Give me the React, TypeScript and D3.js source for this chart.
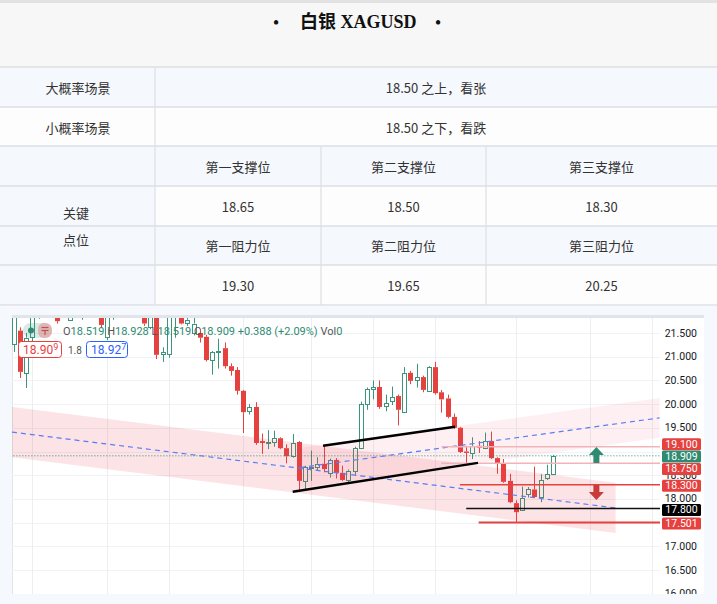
import React from 'react';
import * as d3 from 'd3';

const W = 717;
const H = 604;

// ---------- table content ----------
const titleText = '白银 XAGUSD';
const scenarioLabels = ['大概率场景', '小概率场景'];
const scenarioTexts = ['18.50 之上，看张', '18.50 之下，看跌'];
const keyLabel = ['关键', '点位'];
const supportNames = ['第一支撑位', '第二支撑位', '第三支撑位'];
const supportValues = ['18.65', '18.50', '18.30'];
const resistNames = ['第一阻力位', '第二阻力位', '第三阻力位'];
const resistValues = ['19.30', '19.65', '20.25'];

// ---------- candle data (daily) ----------
const opens = [21.25, 21.55, 20.66, 21.4, 21.85, 22.2, 22.05, 22.25, 21.9, 21.78, 22.1, 21.95, 22.3, 22.15, 22.0, 21.42, 21.88, 22.1, 22.4, 22.25, 22.05, 22.1, 21.62, 21.9, 21.06, 21.04, 21.85, 21.92, 21.72, 21.52, 21.5, 21.42, 20.93, 21.08, 21.18, 20.8, 20.72, 20.28, 19.85, 19.94, 19.22, 19.18, 19.2, 19.28, 19.07, 18.9, 19.2, 18.38, 18.66, 18.67, 18.74, 18.55, 18.82, 18.55, 18.4, 18.59, 19.07, 20.0, 20.32, 20.36, 19.96, 20.07, 20.17, 19.84, 20.66, 20.5, 20.57, 20.28, 20.78, 20.25, 20.12, 19.73, 19.5, 19.0, 18.97, 19.12, 19.08, 19.22, 18.86, 18.74, 18.38, 17.91, 17.77, 18.1, 18.2, 18.05, 18.44, 18.519];
const highs = [22.0, 21.62, 21.5, 22.05, 22.3, 22.4, 22.35, 22.3, 22.15, 22.2, 22.35, 22.4, 22.45, 22.25, 22.1, 21.95, 22.2, 22.5, 22.6, 22.4, 22.2, 22.15, 21.95, 21.95, 21.2, 22.0, 22.0, 21.98, 21.85, 21.85, 21.58, 21.46, 21.12, 21.38, 21.3, 20.86, 20.78, 20.3, 20.0, 20.04, 19.38, 19.45, 19.44, 19.3, 19.15, 19.37, 19.22, 18.7, 19.02, 18.88, 19.12, 18.85, 18.86, 18.7, 18.62, 19.1, 20.05, 20.35, 20.5, 20.5, 20.2, 20.37, 20.2, 20.78, 20.7, 20.85, 20.6, 20.8, 20.89, 20.3, 20.2, 19.8, 19.52, 19.12, 19.3, 19.22, 19.4, 19.42, 18.88, 18.84, 18.53, 17.97, 18.26, 18.25, 18.68, 18.52, 18.72, 18.928];
const lows = [21.1, 20.55, 20.34, 21.3, 21.8, 21.95, 21.95, 21.7, 21.85, 21.76, 22.0, 21.78, 22.05, 21.9, 21.6, 21.35, 21.78, 22.0, 22.15, 21.95, 21.9, 21.65, 21.58, 20.95, 20.89, 20.98, 21.4, 21.68, 21.65, 21.45, 21.3, 20.9, 20.62, 20.75, 20.75, 20.6, 20.2, 19.39, 19.78, 19.14, 18.95, 19.05, 19.1, 19.05, 18.75, 18.87, 18.15, 18.2, 18.38, 18.6, 18.56, 18.45, 18.43, 18.38, 18.33, 18.5, 19.05, 19.88, 20.1, 19.9, 19.85, 19.98, 19.55, 19.82, 20.42, 20.35, 20.25, 20.26, 20.2, 19.82, 19.7, 19.48, 18.97, 18.72, 18.84, 18.97, 19.05, 18.84, 18.53, 18.34, 17.91, 17.5, 17.76, 18.03, 18.02, 17.93, 18.4, 18.519];
const closes = [21.85, 20.68, 21.4, 21.85, 22.2, 22.05, 22.25, 21.75, 22.1, 22.1, 22.3, 22.3, 22.15, 22.0, 21.67, 21.88, 22.1, 22.4, 22.25, 22.05, 22.1, 21.7, 21.85, 21.04, 21.1, 21.85, 21.95, 21.7, 21.78, 21.7, 21.4, 20.93, 21.1, 21.11, 20.8, 20.7, 20.28, 19.83, 19.94, 19.18, 19.18, 19.2, 19.28, 19.07, 18.9, 19.18, 18.38, 18.67, 18.68, 18.74, 18.63, 18.82, 18.55, 18.4, 18.59, 19.07, 20.0, 20.32, 20.36, 19.94, 20.02, 20.15, 19.88, 20.66, 20.49, 20.57, 20.3, 20.78, 20.23, 20.1, 19.73, 19.5, 18.99, 18.97, 19.12, 19.08, 19.22, 18.86, 18.74, 18.36, 17.93, 17.72, 18.02, 18.2, 18.04, 18.4, 18.521, 18.909];

// price axis ticks and time grid (candle indices of period boundaries)
const priceTicks = d3.range(16, 21.51, 0.5);
const gridIdx = [3, 15, 25, 37, 48, 58, 68, 81, 93, 103];

// horizontal levels
const levelPrices = [19.1, 18.909, 18.75, 18.3, 17.8, 17.501];
const levelStartIdx = [69, -2, 69, 72, 73, 75];

// channels (candle index, price)
const fallIdx = [-0.3, 97.1];
const fallUpper = [19.94, 18.34];
const fallMid = [19.41, 17.81];
const fallLower = [18.88, 17.28];
const riseIdx = [46.2, 104.2];
const riseUpper = [19.08, 20.13];
const riseMid = [18.66, 19.71];
const riseLower = [18.23, 19.29];
const trendUpperIdx = [49.9, 71.2];
const trendUpperPx = [19.12, 19.52];
const trendLowerIdx = [45.0, 74.9];
const trendLowerPx = [18.15, 18.76];
const upArrow = [94, 19.095, 18.757];
const downArrow = [94, 18.293, 17.977];

const bidAsk = ['18.909', '18.927'];
const spreadText = '1.8';

const GREEN = '#2e8b72';
const CGREEN = '#3a957b';
const RED = '#e5413f';
const CJK = "'Noto Sans CJK SC', sans-serif";
const UI = "Roboto, 'Liberation Sans', sans-serif";

export default function App() {
  const plotL = 12, plotR = 660, plotT = 318, plotB = 594;
  const n = opens.length;
  const x = d3.scaleLinear().domain([0, n - 1]).range([13.8, 553]);
  const y = d3.scaleLinear().domain([16, 21.5]).range([593.7, 333]);
  const px = (i: number) => Math.round(x(i)) + 0.5;

  const band = (idx: number[], up: number[], lo: number[]) =>
    `M${x(idx[0])},${y(up[0])}L${x(idx[1])},${y(up[1])}L${x(idx[1])},${y(lo[1])}L${x(idx[0])},${y(lo[0])}Z`;

  const lvlLineColor = ['#f3b4b9', GREEN, '#f3b4b9', RED, '#111111', RED];
  const lvlLineWidth = [1.5, 1, 1.5, 1.5, 1.5, 2];
  const lvlBoxColor = [RED, GREEN, RED, RED, '#000000', RED];
  const lvlDy = [-2.5, 0.7, 5.6, 1, 1.5, 1];
  const boxY = levelPrices.map((p, k) => y(p) + lvlDy[k]);

  const last = n - 1;
  const chg = closes[last] - closes[last - 1];
  const pct = (chg / closes[last - 1]) * 100;
  const legend: [string, string][] = [
    ['O', opens[last].toFixed(3)],
    ['H', highs[last].toFixed(3)],
    ['L', lows[last].toFixed(3)],
    ['C', closes[last].toFixed(3)],
  ];

  const rowLines = [67, 107, 146, 186, 226, 265, 305];
  const colMid = [238, 403.5, 601.5];

  const upArrowPath = () => {
    const cx = x(upArrow[0]);
    const t = y(upArrow[1]), b = y(upArrow[2]);
    const hb = t + 8;
    return `M${cx},${t}L${cx + 7.5},${hb}L${cx + 3},${hb}L${cx + 3},${b}L${cx - 3},${b}L${cx - 3},${hb}L${cx - 7.5},${hb}Z`;
  };
  const downArrowPath = () => {
    const cx = x(downArrow[0]);
    const t = y(downArrow[1]), b = y(downArrow[2]);
    const hb = b - 8;
    return `M${cx - 3},${t}L${cx + 3},${t}L${cx + 3},${hb}L${cx + 7.5},${hb}L${cx},${b}L${cx - 7.5},${hb}L${cx - 3},${hb}Z`;
  };

  const visibleTicks = priceTicks.filter((p) => boxY.every((by) => Math.abs(by - y(p)) > 6));

  return (
    <svg width={W} height={H} viewBox={`0 0 ${W} ${H}`} style={{ position: 'absolute', left: 0, top: 0 }}>
      <defs>
        <clipPath id="plot"><rect x={plotL} y={plotT} width={plotR - plotL} height={plotB - plotT} /></clipPath>
        <clipPath id="panel"><rect x={12} y={315} width={692} height={279} /></clipPath>
      </defs>
      {/* ---------- title + table ---------- */}
      <rect x={0} y={0} width={W} height={H} fill="#f5f8fd" />
      <rect x={0} y={0} width={W} height={3} fill="#e2e2e2" />
      <rect x={0} y={3} width={W} height={64} fill="#f7f7f7" />
      <text x={276} y={22} fontSize={16} fontWeight="bold" fill="#111" dominantBaseline="central" textAnchor="middle" fontFamily="'Liberation Serif', serif">•</text>
      <text x={300} y={22} fontSize={18} fontWeight="bold" fill="#111" dominantBaseline="central" fontFamily={`'Liberation Serif', ${CJK}`}>{titleText}</text>
      <text x={438} y={22} fontSize={16} fontWeight="bold" fill="#111" dominantBaseline="central" textAnchor="middle" fontFamily="'Liberation Serif', serif">•</text>

      <rect x={0} y={67} width={W} height={40} fill="#f5f8fd" />
      <rect x={0} y={107} width={W} height={39} fill="#fdfdfd" />
      <rect x={0} y={146} width={155} height={159} fill="#f5f8fd" />
      <rect x={155} y={146} width={562} height={40} fill="#f5f8fd" />
      <rect x={155} y={186} width={562} height={40} fill="#fdfdfd" />
      <rect x={155} y={226} width={562} height={39} fill="#f5f8fd" />
      <rect x={155} y={265} width={562} height={40} fill="#fdfdfd" />
      {rowLines.map((ry) => (
        <line key={ry} x1={0} x2={W} y1={ry} y2={ry} stroke="#dcdfe4" strokeWidth={1.5} />
      ))}
      <line x1={155} x2={155} y1={67} y2={305} stroke="#dcdfe4" strokeWidth={1.2} />
      <line x1={321} x2={321} y1={146} y2={305} stroke="#dcdfe4" strokeWidth={1.2} />
      <line x1={486} x2={486} y1={146} y2={305} stroke="#dcdfe4" strokeWidth={1.2} />

      <g fontFamily={CJK} fontSize={13} fill="#333" textAnchor="middle" dominantBaseline="central">
        {scenarioLabels.map((s, k) => (
          <text key={s} x={78} y={87 + k * 40}>{s}</text>
        ))}
        {scenarioTexts.map((s, k) => (
          <text key={s} x={436} y={87 + k * 40}>{s}</text>
        ))}
        {keyLabel.map((s, k) => (
          <text key={s} x={76} y={212 + k * 27}>{s}</text>
        ))}
        {supportNames.map((s, k) => (
          <text key={s} x={colMid[k]} y={166}>{s}</text>
        ))}
        {supportValues.map((s, k) => (
          <text key={'sv' + k} x={colMid[k]} y={206}>{s}</text>
        ))}
        {resistNames.map((s, k) => (
          <text key={s} x={colMid[k]} y={245}>{s}</text>
        ))}
        {resistValues.map((s, k) => (
          <text key={'rv' + k} x={colMid[k]} y={285}>{s}</text>
        ))}
      </g>

      {/* ---------- chart panel ---------- */}
      <rect x={0} y={305.75} width={W} height={H - 305.75} fill="#f5f8fd" />
      <g clipPath="url(#panel)">
        <rect x={12} y={315} width={692} height={279} fill="#ffffff" />
        <rect x={12} y={315} width={692} height={3} fill="#e1e4ea" />
        <line x1={12.5} x2={12.5} y1={315} y2={594} stroke="#e1e4ea" />
        {/* grid */}
        {priceTicks.map((p) => (
          <line key={'h' + p} x1={plotL} x2={plotR} y1={Math.round(y(p)) + 0.5} y2={Math.round(y(p)) + 0.5} stroke="#f0f2f5" />
        ))}
        {gridIdx.map((g) => (
          <line key={'v' + g} x1={px(g)} x2={px(g)} y1={plotT} y2={plotB} stroke="#eceef2" />
        ))}

        <g clipPath="url(#plot)">
          {/* candles */}
          {opens.map((o, i) => {
            const c = closes[i];
            const up = c >= o;
            const cx = px(i);
            const yo = y(o), yc = y(c);
            const top = Math.min(yo, yc);
            const bot = Math.max(yo, yc);
            const h = Math.max(1, bot - top);
            const col = up ? CGREEN : RED;
            return (
              <g key={i}>
                <line x1={cx} x2={cx} y1={y(highs[i])} y2={top} stroke={col} strokeWidth={1} />
                <line x1={cx} x2={cx} y1={top + h} y2={y(lows[i])} stroke={col} strokeWidth={1} />
                {up ? (
                  <rect x={cx - 2} y={Math.round(top) + 0.5} width={4} height={Math.max(1, Math.round(h))} fill="#ffffff" stroke={col} strokeWidth={1} />
                ) : (
                  <rect x={cx - 2.5} y={top} width={5} height={h} fill={col} />
                )}
              </g>
            );
          })}

          {/* channels */}
          <path d={band(fallIdx, fallUpper, fallLower)} fill="rgba(236,70,85,0.15)" />
          <path d={band(riseIdx, riseUpper, riseLower)} fill="rgba(236,70,85,0.08)" />
          <line x1={x(fallIdx[0])} x2={x(fallIdx[1])} y1={y(fallMid[0])} y2={y(fallMid[1])} stroke="#5a7cf6" strokeWidth={1.2} strokeDasharray="5,4" />
          <line x1={x(riseIdx[0])} x2={x(riseIdx[1])} y1={y(riseMid[0])} y2={y(riseMid[1])} stroke="#5a7cf6" strokeWidth={1.2} strokeDasharray="5,4" />

          {/* levels */}
          {levelPrices.map((p, k) => (
            <line key={'l' + k} x1={x(levelStartIdx[k])} x2={plotR} y1={y(p)} y2={y(p)} stroke={lvlLineColor[k]} strokeWidth={lvlLineWidth[k]} strokeDasharray={k === 1 ? '1,2' : undefined} />
          ))}

          {/* trend lines */}
          <line x1={x(trendUpperIdx[0])} x2={x(trendUpperIdx[1])} y1={y(trendUpperPx[0])} y2={y(trendUpperPx[1])} stroke="#000" strokeWidth={2.5} />
          <line x1={x(trendLowerIdx[0])} x2={x(trendLowerIdx[1])} y1={y(trendLowerPx[0])} y2={y(trendLowerPx[1])} stroke="#000" strokeWidth={2.5} />

          {/* arrows */}
          <path d={upArrowPath()} fill={GREEN} />
          <path d={downArrowPath()} fill="#c93a3a" />
        </g>

        {/* price axis */}
        {visibleTicks.map((p) => (
          <text key={'t' + p} x={697} y={y(p)} fontSize={10.5} fill="#131722" textAnchor="end" dominantBaseline="central" fontFamily={UI}>
            {p.toFixed(3)}
          </text>
        ))}
        {levelPrices.map((p, k) => (
          <g key={'b' + k}>
            <rect x={662} y={boxY[k] - 6} width={39} height={12} rx={1.5} fill={lvlBoxColor[k]} />
            <text x={681.5} y={boxY[k]} fontSize={10.5} fill="#fff" textAnchor="middle" dominantBaseline="central" fontFamily={UI}>
              {p.toFixed(3)}
            </text>
          </g>
        ))}

        {/* legend overlay */}
        <rect x={23} y={323} width={29} height={15} rx={7.5} fill="rgba(46,139,114,0.18)" />
        <circle cx={31} cy={330.5} r={3} fill={GREEN} />
        <rect x={38} y={323} width={14} height={15} rx={6} fill="rgba(229,65,63,0.3)" />
        <line x1={41.5} x2={48.5} y1={327.5} y2={327.5} stroke="#c84a55" strokeWidth={1.2} />
        <line x1={41.5} x2={48.5} y1={330.5} y2={330.5} stroke="#c84a55" strokeWidth={1.2} />
        <line x1={45} x2={45} y1={330.5} y2={335} stroke="#c84a55" strokeWidth={1.2} />
        <text x={63} y={330.5} fontSize={11} dominantBaseline="central" fontFamily={UI}>
          {legend.map(([k, v]) => (
            <React.Fragment key={k}>
              <tspan fill="#555">{k}</tspan>
              <tspan fill={GREEN}>{v + ' '}</tspan>
            </React.Fragment>
          ))}
          <tspan fill={GREEN}>{`${chg >= 0 ? '+' : ''}${chg.toFixed(3)} (${pct >= 0 ? '+' : ''}${pct.toFixed(2)}%) `}</tspan>
          <tspan fill="#555">Vol</tspan>
          <tspan fill={GREEN}>0</tspan>
        </text>
        <rect x={18.5} y={341.5} width={43} height={16} rx={3} fill="#fff" stroke={RED} />
        <text x={23} y={350} fontSize={12} fill={RED} dominantBaseline="central" fontFamily={UI}>
          {bidAsk[0].slice(0, -1)}
          <tspan fontSize={9} dy={-3}>{bidAsk[0].slice(-1)}</tspan>
        </text>
        <text x={68} y={350} fontSize={10} fill="#555" dominantBaseline="central" fontFamily={UI}>{spreadText}</text>
        <rect x={86.5} y={341.5} width={41} height={16} rx={3} fill="#fff" stroke="#2962ff" />
        <text x={91} y={350} fontSize={12} fill="#2962ff" dominantBaseline="central" fontFamily={UI}>
          {bidAsk[1].slice(0, -1)}
          <tspan fontSize={9} dy={-3}>{bidAsk[1].slice(-1)}</tspan>
        </text>
      </g>
    </svg>
  );
}
